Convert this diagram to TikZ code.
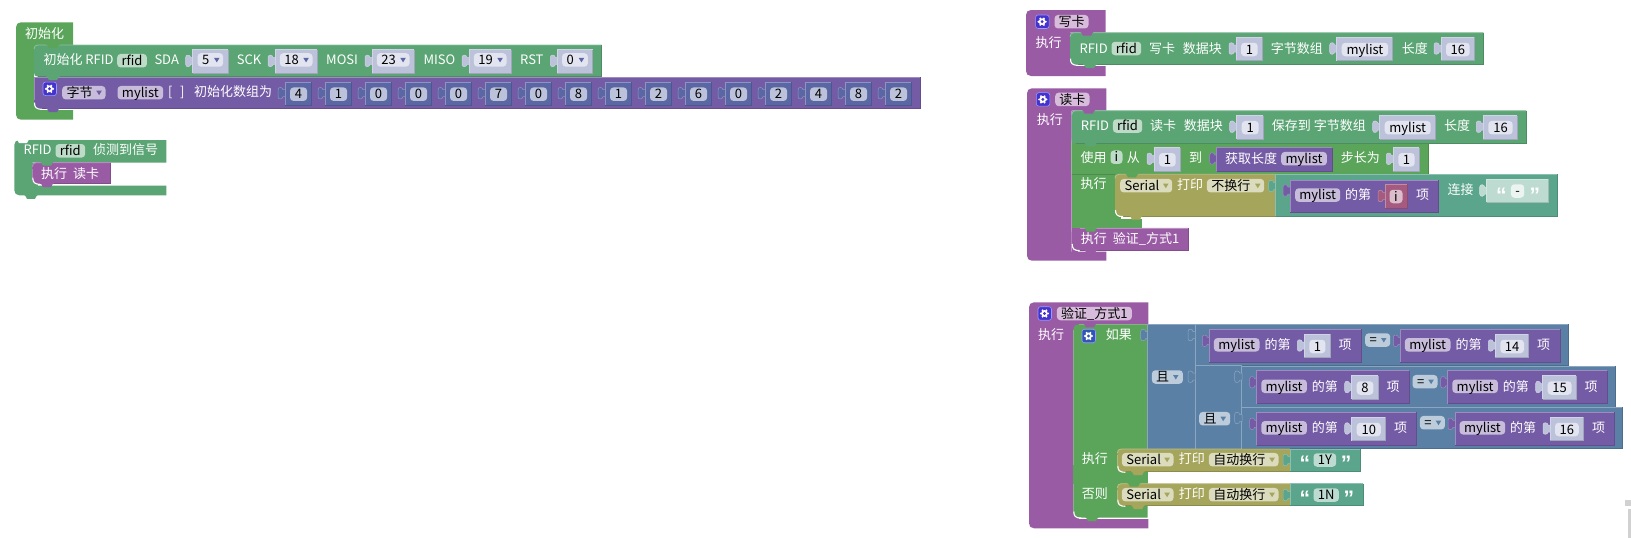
\documentclass[tikz,border=0pt]{standalone}
\usepackage{fontspec}
\setmainfont{Noto Sans CJK SC}
\newfontfamily\quotefont{Liberation Sans}

\definecolor{hatgrn}{HTML}{5BA55B}
\definecolor{rfidgrn}{HTML}{5BA575}
\definecolor{conteal}{HTML}{5BA58C}
\definecolor{arrpur}{HTML}{745BA5}
\definecolor{procpur}{HTML}{9A5BA5}
\definecolor{serolv}{HTML}{A5A55B}
\definecolor{logblu}{HTML}{5B80A5}
\definecolor{mathblu}{HTML}{5B67A5}
\definecolor{varred}{HTML}{A55B80}
\definecolor{vallite}{HTML}{BDC2DB}
\definecolor{valfld}{HTML}{E2E4F0}
\definecolor{fldgrn}{HTML}{BDDBC7}
\definecolor{fldpur}{HTML}{C7BDDB}
\definecolor{fldproc}{HTML}{D7BDDB}
\definecolor{fldolv}{HTML}{DBDBBD}
\definecolor{fldblu}{HTML}{BDCCDB}
\definecolor{fldstr}{HTML}{BDDBD1}
\definecolor{fldred}{HTML}{DBBDCC}
\definecolor{gearpur}{HTML}{4433CC}
\definecolor{gearblu}{HTML}{2F55B5}

\tikzset{
  lab/.style={anchor=west,inner sep=0pt,text=white,font=\fontsize{13}{15}\selectfont,text height=11pt,text depth=1.5pt},
  fldbox/.style={anchor=west,inner sep=0pt,rounded corners=3.5pt,minimum height=13.5pt,text=black,font=\fontsize{13}{15}\selectfont,text height=11pt,text depth=1.5pt},
  fldtxt/.style={lab,text=black},
  quotelab/.style={anchor=west,inner sep=0pt,text=white,font=\quotefont\bfseries\fontsize{21}{21}\selectfont,text height=12pt,text depth=0pt},
  gearbox/.style={anchor=west,inner sep=0pt,rounded corners=2.5pt,minimum size=13.5pt,draw=white!60!blue,line width=.6pt}
}

% 方块：颜色, x1, x2, y1, y2
\newcommand{\blk}[5]{%
  \fill[#1] (#2,#4) rectangle (#3,#5);
  \draw[#1!70!white,line width=.8pt] (#2,#5) -- (#2,#4) -- (#3,#4);
  \draw[#1!85!black,line width=.8pt] (#3,#4) -- (#3,#5) -- (#2,#5);}
% 左侧圆角方块
\newcommand{\blkr}[5]{%
  \fill[#1] (#3,#4) -- (#2+4,#4) .. controls (#2+1.5,#4) and (#2,#4+1.5) .. (#2,#4+4) -- (#2,#5-4)
    .. controls (#2,#5-1.5) and (#2+1.5,#5) .. (#2+4,#5) -- (#3,#5) -- cycle;
  \draw[#1!70!white,line width=.8pt] (#3,#4) -- (#2+4,#4) .. controls (#2+1.5,#4) and (#2,#4+1.5) .. (#2,#4+4);
  \draw[#1!85!black,line width=.8pt] (#3,#4) -- (#3,#5) -- (#2+4,#5);}
% C 形帽子块：颜色, x1, x2, x3, y1, y2, y3, y4
\newcommand{\hatb}[8]{%
  \fill[#1] (#3,#5) -- (#2+5,#5) .. controls (#2+2,#5) and (#2,#5+2) .. (#2,#5+5) -- (#2,#8-5)
    .. controls (#2,#8-2) and (#2+2,#8) .. (#2+5,#8) -- (#3,#8) -- (#3,#7) -- (#4,#7) -- (#4,#6) -- (#3,#6) -- cycle;
  \fill[#1] (#4,#6) rectangle (#4+6,#6+6);
  \fill[#1] (#4,#7-6) rectangle (#4+6,#7);}
% 下凸口
\newcommand{\bmp}[3]{\fill[#1] (#2+12,#3-.5) .. controls (#2+13.5,#3+.5) .. (#2+15,#3+3.5) -- (#2+23,#3+3.5) .. controls (#2+24.5,#3+.5) .. (#2+26,#3-.5) -- cycle;}
% 内侧白角
\newcommand{\cnr}[2]{\draw[white,line width=1.1pt] (#1+.5,#2-6) .. controls (#1+.5,#2-1.5) and (#1+2,#2+.6) .. (#1+8,#2+.6);}
% 左插头
\newcommand{\tabb}[3]{\filldraw[fill=#1,draw=#1!70!white,line width=.5pt] (#2+.5,#3-3.5) -- (#2-2,#3-3.5) .. controls (#2-2,#3-6) and (#2-7,#3-7) .. (#2-7,#3-3.5) -- (#2-7,#3+3.5)
    .. controls (#2-7,#3+7) and (#2-2,#3+6) .. (#2-2,#3+3.5) -- (#2+.5,#3+3.5) -- cycle;}
\newcommand{\lab}[4]{\node[lab] (#1) at (#2,#3) {#4};}
\newcommand{\fld}[6]{\node[fldbox,fill=#5,minimum width=((#3)-(#2))*1pt] (#1) at (#2,#4) {#6};}
% 下拉字段（多一个三角颜色）
\newcommand{\fldd}[7]{%
  \node[fldbox,fill=#5,minimum width=((#3)-(#2))*1pt] (#1) at (#2,#4) {};
  \node[fldtxt] (#1t) at (#2+4.5,#4) {#6};
  \fill[#7] (#3-9,#4-2) -- (#3-3.5,#4-2) -- (#3-6.2,#4+2.5) -- cycle;}
\newcommand{\gear}[4]{%
  \node[gearbox,fill=#4] (#1) at (#2,#3) {};
  \foreach \a in {0,60,...,300} \fill[white] (#2+6.8,#3) ++(\a:3.6) circle (1.1pt);
  \fill[white] (#2+6.8,#3) circle (3.4pt);
  \fill[#4] (#2+6.8,#3) circle (1.6pt);}
% 数值块：名字, 盒色, 字段色, x1, x2, cy, 文字
\newcommand{\valb}[7]{%
  \tabb{#2}{#4}{#6-.5}
  \blk{#2}{#4}{#5}{#6-11.7}{#6+11.7}
  \fld{#1}{#4+4.8}{#5-4.8}{#6+.5}{#3}{#7}}
\newcommand{\vnum}[5]{\valb{#1}{vallite}{valfld}{#2}{#3}{#4}{#5}}
\newcommand{\vdrp}[5]{%
  \tabb{vallite}{#2}{#4-.5}
  \blk{vallite}{#2}{#3}{#4-11.7}{#4+11.7}
  \fldd{#1}{#2+4.6}{#3-5}{#4-1.5}{valfld}{#5}{mathblu}}
\newcommand{\vdark}[3]{\valb{#1}{mathblu}{vallite}{#2}{#2+26.7}{93.7}{#3}}
% mylist 的第 N 项：名字, x1, y1, 盒宽, N
\newcommand{\lstitem}[5]{%
  \pgfmathsetmacro\bxa{#2+95}\pgfmathsetmacro\bxb{#2+95+#4}
  \pgfmathsetmacro\bxy{#3+16.7}\pgfmathsetmacro\fly{#3+15.5}
  \pgfmathsetmacro\xend{#2+95+#4+31.3}\pgfmathsetmacro\yend{#3+33}
  \tabb{arrpur}{#2}{#3+11.5}
  \blk{arrpur}{#2}{\xend}{#3}{\yend}
  \fld{#1a}{#2+4.4}{#2+50}{\fly}{fldpur}{mylist}
  \lab{#1b}{#2+55}{\fly}{的第}
  \vnum{#1c}{\bxa}{\bxb}{\bxy}{#5}
  \lab{#1d}{\bxb+8.4}{\fly}{项}}

\begin{document}
\begin{tikzpicture}[x=1pt, y=-1pt]

  %% ════ 初始化 ════
  \hatb{hatgrn}{16}{73}{34}{22.3}{45}{110}{119.7}
  \lab{initT}{25}{33.5}{初始化}
  \blkr{rfidgrn}{34}{601.7}{45}{76.7}
  \blk{arrpur}{34}{920.7}{77}{108.7}
  \fill[hatgrn] (34,100) rectangle (39,110);
  \fill[arrpur] (34,100) .. controls (34,106) and (36,108.7) .. (41,108.7) -- (41,100) -- cycle;
  \cnr{34}{108.7}
  \bmp{hatgrn}{34}{44.7}
  \bmp{rfidgrn}{34}{76.7}
  \bmp{arrpur}{34}{108.7}
  \lab{initR}{43.3}{60}{初始化 RFID}
  \fld{initF}{117}{146.7}{60.7}{fldgrn}{rfid}
  \lab{initSDA}{154.3}{60}{SDA}
  \vdrp{initA}{192.7}{228}{61.4}{5}
  \lab{initSCK}{236.7}{60}{SCK}
  \vdrp{initB}{275}{317.3}{61.4}{18}
  \lab{initMOSI}{326}{60}{MOSI}
  \vdrp{initC}{372}{414.3}{61.4}{23}
  \lab{initMISO}{423.3}{60}{MISO}
  \vdrp{initD}{469}{511.3}{61.4}{19}
  \lab{initRST}{520}{60}{RST}
  \vdrp{initE}{557.3}{592.7}{61.4}{0}

  \gear{arrG}{42.7}{88.8}{gearpur}
  \fldd{arrType}{62}{105.3}{92.7}{fldpur}{字节}{arrpur}
  \fld{arrName}{117.3}{163}{92.7}{fldpur}{mylist}
  \lab{arrL}{168}{92}{[}
  \lab{arrR}{180}{92}{]}
  \lab{arrT}{194}{92}{初始化数组为}
  \vdark{arrA}{285}{4}    \vdark{arrB}{325}{1}   \vdark{arrC}{365}{0}   \vdark{arrD}{405}{0}
  \vdark{arrE}{445}{0}    \vdark{arrF}{485}{7}   \vdark{arrH}{525}{0}   \vdark{arrI}{565}{8}
  \vdark{arrJ}{605}{1}    \vdark{arrK}{645}{2}   \vdark{arrM}{685}{6}   \vdark{arrN}{725}{0}
  \vdark{arrO}{765}{2}    \vdark{arrP}{805}{4}   \vdark{arrQ}{845}{8}   \vdark{arrS}{885}{2}

  %% ════ RFID 侦测到信号 ════
  \hatb{rfidgrn}{14.3}{166.3}{32.3}{140}{162.7}{185.7}{195.3}
  \bmp{white}{4}{139.5}
  \blkr{procpur}{32.3}{110.7}{162.7}{183.7}
  \cnr{32.3}{183.7}
  \bmp{rfidgrn}{28}{162.2}
  \bmp{procpur}{28}{183.7}
  \bmp{rfidgrn}{12}{195.3}
  \lab{evtR}{23.3}{150}{RFID}
  \fld{evtF}{55.3}{85}{150.8}{fldgrn}{rfid}
  \lab{evtT}{93}{150}{侦测到信号}
  \lab{evtC}{41}{173.3}{执行\hspace{6pt}读卡}

  %% ════ 写卡 ════
  \hatb{procpur}{1026}{1105.7}{1070}{10}{32.7}{66}{76}
  \gear{wrG}{1035.3}{21.7}{gearpur}
  \fld{wrF}{1054.3}{1088.3}{21.7}{fldproc}{写卡}
  \lab{wrE}{1035.3}{42.3}{执行}
  \blkr{rfidgrn}{1070}{1483.3}{32.7}{64.7}
  \cnr{1070}{64.7}
  \bmp{procpur}{1068}{32.2}
  \bmp{rfidgrn}{1071}{64.7}
  \lab{wrR}{1079.3}{48.3}{RFID}
  \fld{wrN}{1111.3}{1141}{48.5}{fldgrn}{rfid}
  \lab{wrT}{1149}{48.3}{写卡}
  \lab{wrB}{1182.7}{48.3}{数据块}
  \vnum{wrA}{1236}{1262.3}{49}{1}
  \lab{wrS}{1270.7}{48.3}{字节数组}
  \vnum{wrL}{1336.7}{1392.7}{49}{mylist}
  \lab{wrC}{1401.7}{48.3}{长度}
  \vnum{wrD}{1441}{1474.3}{49}{16}

  %% ════ 读卡 ════
  \hatb{procpur}{1027}{1106.3}{1071.7}{88.3}{110.7}{251.7}{260.7}
  \gear{rdG}{1036}{99.4}{gearpur}
  \fld{rdF}{1055}{1089.3}{99.4}{fldproc}{读卡}
  \lab{rdE}{1036.7}{120}{执行}
  \fill[hatgrn] (1071.7,142.7) rectangle (1115,228.3);
  \fill[hatgrn] (1115,219) rectangle (1141.7,228.3);
  \blk{hatgrn}{1071.7}{1428.7}{142.7}{174.3}
  \blkr{rfidgrn}{1071.7}{1526}{110.7}{143}
  \fill[rfidgrn] (1071.7,130) rectangle (1080,143);
  \bmp{procpur}{1069.7}{110.2}
  \bmp{rfidgrn}{1071.7}{142.7}
  \lab{rdR}{1080.7}{125.7}{RFID}
  \fld{rdN}{1112.7}{1142}{126}{fldgrn}{rfid}
  \lab{rdT}{1150}{125.7}{读卡}
  \lab{rdB}{1183.7}{125.7}{数据块}
  \vnum{rdA}{1236.7}{1263.3}{127.2}{1}
  \lab{rdS}{1271.7}{125.7}{保存到 字节数组}
  \vnum{rdL}{1379.7}{1435.3}{127.2}{mylist}
  \lab{rdC}{1444}{125.7}{长度}
  \vnum{rdD}{1483.3}{1517.3}{127.2}{16}

  \lab{forU}{1080.3}{157.7}{使用}
  \fld{forI}{1110.3}{1122.3}{157.2}{fldgrn}{i}
  \lab{forF}{1126.7}{157.7}{从}
  \vnum{forA}{1154}{1180.3}{159.3}{1}
  \lab{forT}{1189}{157.7}{到}
  \tabb{arrpur}{1216.7}{158.5}
  \blk{arrpur}{1216.7}{1332.3}{147.7}{171}
  \lab{lenT}{1225}{158.5}{获取长度}
  \fld{lenL}{1281}{1326.7}{158.7}{fldpur}{mylist}
  \lab{forS}{1340.7}{157.7}{步长为}
  \vnum{forB}{1393.3}{1419.3}{159.3}{1}

  \lab{forE}{1080.3}{184}{执行}
  \fill[hatgrn] (1115,174) rectangle (1121,180);
  \fill[hatgrn] (1115,210) rectangle (1121,219);
  \blkr{serolv}{1115}{1275.7}{174.3}{216}
  \cnr{1115}{216}
  \bmp{hatgrn}{1113}{173.8}
  \bmp{serolv}{1117}{216}
  \fldd{serA}{1120}{1172}{185.7}{fldolv}{Serial}{serolv}
  \lab{serT}{1177}{185}{打印}
  \fldd{serB}{1206.7}{1264}{185.7}{fldolv}{不换行}{serolv}
  \tabb{conteal}{1275.7}{186}
  \blk{conteal}{1275.7}{1557.7}{174.3}{216}
  \tabb{arrpur}{1290}{190.5}
  \blk{arrpur}{1290}{1438.3}{180}{212.3}
  \fld{getL}{1295}{1340}{195}{fldpur}{mylist}
  \lab{getT}{1345}{194.5}{的第}
  \tabb{varred}{1385}{196}
  \blk{varred}{1385}{1407.7}{184.3}{208.3}
  \fld{getI}{1389.3}{1402.3}{196.5}{fldred}{i}
  \lab{getX}{1416}{194.5}{项}
  \lab{conT}{1447.3}{190}{连接}
  \tabb{fldstr}{1486.7}{190.5}
  \blk{fldstr}{1486.7}{1548.3}{179.3}{202.3}
  \node[quotelab] (conL) at (1496,196) {“};
  \fld{conS}{1510.7}{1524}{191}{white!70!fldstr}{-}
  \node[quotelab] (conR) at (1529.3,196) {”};

  \blkr{procpur}{1071.7}{1188.7}{228.3}{250}
  \fill[procpur] (1071.7,228.3) rectangle (1080,240);
  \cnr{1071.7}{250}
  \bmp{hatgrn}{1071.7}{228}
  \bmp{procpur}{1071.7}{250}
  \lab{rdV}{1080.7}{239}{执行\hspace{6pt}验证\_方式1}

  %% ════ 验证_方式1 ════
  \hatb{procpur}{1029}{1148.3}{1073.3}{302.3}{324.3}{519}{528.3}
  \gear{vfG}{1037.7}{313.5}{gearpur}
  \fld{vfF}{1056.7}{1131.7}{313.5}{fldproc}{验证\_方式1}
  \lab{vfE}{1038}{334.3}{执行}
  \hatb{hatgrn}{1073.3}{1147.7}{1117.3}{324.3}{449}{505.7}{517.7}
  \fill[hatgrn] (1073.3,465) rectangle (1123,483.7);
  \fill[hatgrn] (1073.3,471) rectangle (1147.7,483.7);
  \fill[hatgrn] (1117.3,483) rectangle (1123,490);
  \bmp{procpur}{1071}{323.8}
  \bmp{hatgrn}{1073}{517.5}
  \cnr{1073.3}{517.5}
  \gear{ifG}{1081.7}{336}{gearblu}
  \lab{ifT}{1105.7}{335}{如果}

  \tabb{logblu}{1147.7}{335}
  \blk{logblu}{1147.7}{1195}{324.3}{449}
  \blk{logblu}{1195}{1568.3}{324.3}{365.7}
  \blk{logblu}{1195}{1241.7}{365.7}{449}
  \blk{logblu}{1241.7}{1615.7}{365.9}{407}
  \blk{logblu}{1241.7}{1622.7}{407}{448.6}
  \fld{andA}{1151.7}{1182.7}{377}{fldblu}{}
  \node[fldtxt] (andAt) at (1156,377) {且};
  \fill[logblu] (1173,375) -- (1178.5,375) -- (1175.8,379.5) -- cycle;
  \fld{andB}{1199}{1230}{418.7}{fldblu}{}
  \node[fldtxt] (andBt) at (1203.5,418.7) {且};
  \fill[logblu] (1220.5,416.7) -- (1226,416.7) -- (1223.2,421.2) -- cycle;
  \tabb{logblu}{1195}{335}
  \tabb{logblu}{1195}{376.7}
  \tabb{logblu}{1241.7}{376.7}
  \tabb{logblu}{1241.7}{418}

  \lstitem{cmpA}{1209.3}{329.3}{25.7}{1}
  \fldd{eqA}{1365}{1390}{340}{fldblu}{=}{logblu}
  \lstitem{cmpB}{1400.3}{329.3}{33.3}{14}
  \lstitem{cmpC}{1256.7}{370.8}{26.3}{8}
  \fldd{eqB}{1412.3}{1437.3}{381.7}{fldblu}{=}{logblu}
  \lstitem{cmpD}{1447.7}{370.8}{33.4}{15}
  \lstitem{cmpE}{1256.7}{412.3}{33.7}{10}
  \fldd{eqC}{1419.7}{1444.7}{422.7}{fldblu}{=}{logblu}
  \lstitem{cmpF}{1455}{412.3}{33.4}{16}

  \lab{ifE}{1081.7}{458.3}{执行}
  \fill[hatgrn] (1117.3,448) rectangle (1123,455);
  \blkr{serolv}{1117.3}{1290}{449}{471.7}
  \cnr{1117.3}{471.7}
  \bmp{serolv}{1119}{471.7}
  \fldd{prA}{1121.7}{1173.3}{459.7}{fldolv}{Serial}{serolv}
  \lab{prT}{1178.7}{459}{打印}
  \fldd{prB}{1208.7}{1278.3}{459.7}{fldolv}{自动换行}{serolv}
  \tabb{conteal}{1290}{460}
  \blk{conteal}{1290}{1360.7}{449}{471.7}
  \node[quotelab] (prL) at (1299.3,464) {“};
  \fld{prS}{1313.3}{1336}{460}{fldstr}{1Y}
  \node[quotelab] (prR) at (1340.7,464) {”};

  \lab{ifN}{1081.7}{493.3}{否则}
  \blkr{serolv}{1117.3}{1290}{483.7}{505.7}
  \cnr{1117.3}{505.7}
  \bmp{hatgrn}{1115}{483.2}
  \bmp{serolv}{1119}{505.7}
  \fldd{psA}{1121.7}{1173.3}{494.7}{fldolv}{Serial}{serolv}
  \lab{psT}{1178.7}{494}{打印}
  \fldd{psB}{1208.7}{1278.3}{494.7}{fldolv}{自动换行}{serolv}
  \tabb{conteal}{1290}{495}
  \blk{conteal}{1290}{1363}{483.7}{505.7}
  \node[quotelab] (psL) at (1299.3,499) {“};
  \fld{psS}{1313.3}{1338.7}{495}{fldstr}{1N}
  \node[quotelab] (psR) at (1343.3,499) {”};

  %% ════ 右下角滚动条残影 ════
  \fill[black!18] (1625,499.7) rectangle (1631,505.7);
  \fill[black!18] (1627.7,508.7) rectangle (1631,538);

  % 钉死画布
  \pgfresetboundingbox
  \path[use as bounding box] (0,0) rectangle (1631,538);
\end{tikzpicture}
\end{document}
